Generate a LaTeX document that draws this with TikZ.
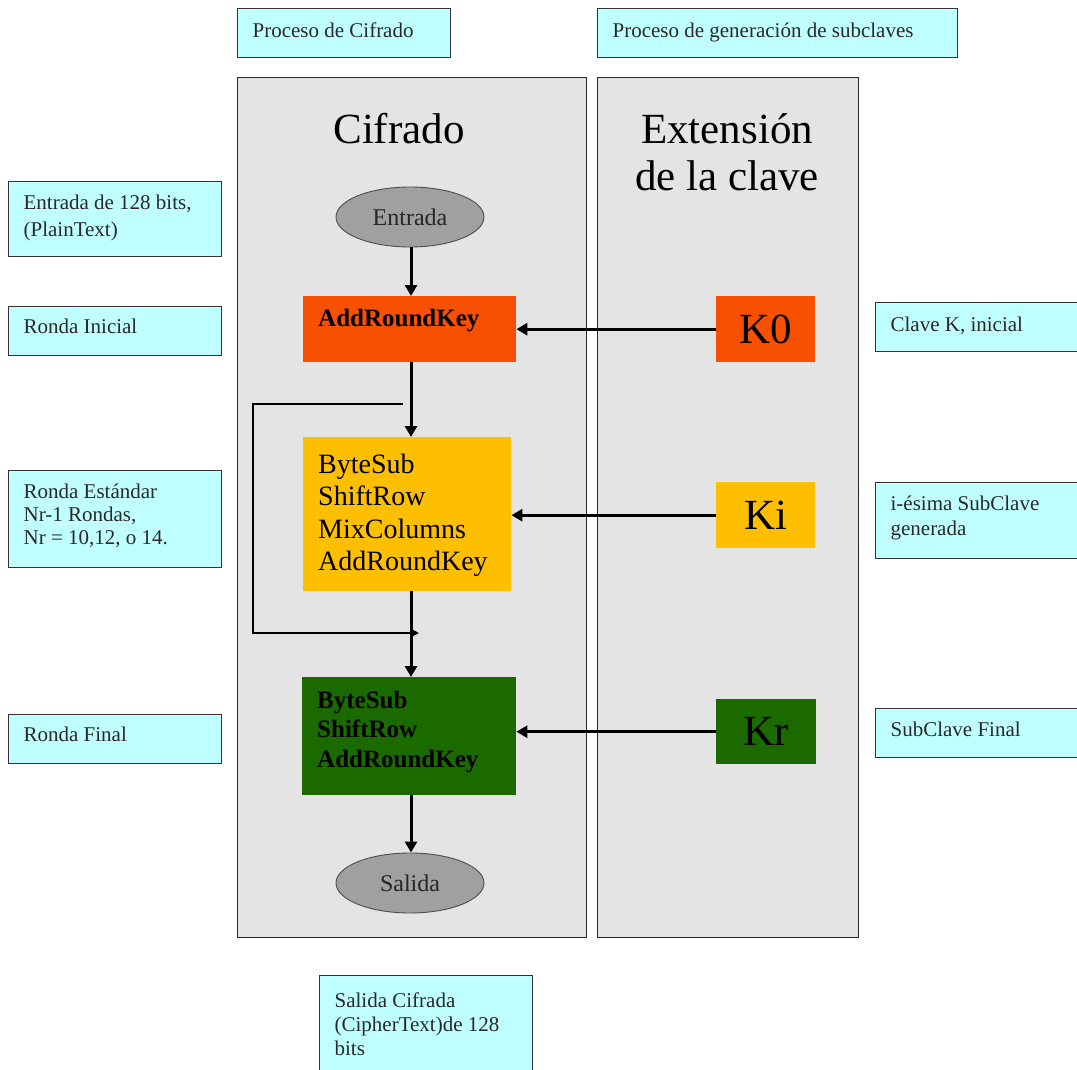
\documentclass[tikz,border=0pt]{standalone}
\usepackage{fontspec}
\setmainfont{Liberation Serif}
\usetikzlibrary{shapes.geometric,arrows.meta,calc}
\definecolor{cyanlt}{RGB}{192,255,255}
\definecolor{panelgray}{RGB}{228,228,228}
\definecolor{ovalgray}{RGB}{160,160,160}
\definecolor{orng}{RGB}{247,80,0}
\definecolor{yelw}{RGB}{253,191,0}
\definecolor{grn}{RGB}{26,106,0}
\definecolor{txtgray}{RGB}{40,40,40}
\newcommand{\bt}[4]{\parbox[c][#2pt][t]{#1pt}{\raggedright\rule{0pt}{#3pt}#4}}
\tikzset{
  lbl/.style={draw=black!80, line width=1.2pt, fill=cyanlt, anchor=north west,
    inner xsep=15pt, inner ysep=0pt, text=txtgray},
  panel/.style={draw=black!85, line width=1.2pt, fill=panelgray, anchor=north west,
    inner sep=0pt},
  cbox/.style={anchor=north west, inner xsep=15pt, inner ysep=0pt, text=black},
  kbox/.style={anchor=north west, inner sep=0pt, font=\fontsize{43}{47}\selectfont, text=black},
  oval/.style={ellipse, draw=black!70, line width=0.9pt, fill=ovalgray, minimum width=148pt,
    minimum height=60pt, inner sep=0pt, font=\fontsize{24}{28}\selectfont, text=black!85},
  arr/.style={line width=3pt, -{Triangle[width=12pt,length=11pt]}},
  thinarr/.style={line width=2pt, -{Triangle[width=9pt,length=9pt]}},
  title/.style={font=\fontsize{43}{47}\selectfont, text=black},
}
\begin{document}
\begin{tikzpicture}[x=1pt,y=-1pt]
\useasboundingbox (0,0) rectangle (1077,1070);
\fill[white] (0,0) rectangle (1077,1070);

% panels
\node[panel, minimum width=349pt, minimum height=860pt] (pL) at (237,77) {};
\node[panel, minimum width=261pt, minimum height=860pt] (pR) at (597,77) {};

% titles
\node[title, anchor=base] (tC) at (399,144) {Cifrado};
\node[title, align=center] (tE) at (727,152) {Extensión\\de la clave};

% top labels
\node[lbl, font=\fontsize{21}{25}\selectfont] (procC) at (237,8) {\bt{183}{49}{29}{Proceso de Cifrado}};
\node[lbl, font=\fontsize{21}{25}\selectfont] (procG) at (597,8) {\bt{330}{49}{29}{Proceso de generación de subclaves}};

% left labels
\node[lbl, font=\fontsize{21}{27}\selectfont] (entL) at (8,181) {\bt{183}{75}{28}{Entrada de 128 bits,\\(PlainText)}};
\node[lbl, font=\fontsize{21}{25}\selectfont] (riL) at (8,306) {\bt{183}{49}{27}{Ronda Inicial}};
\node[lbl, font=\fontsize{21}{23}\selectfont] (reL) at (8,470) {\bt{183}{97}{28}{Ronda Estándar\\Nr-1 Rondas,\\Nr = 10,12, o 14.}};
\node[lbl, font=\fontsize{21}{25}\selectfont] (rfL) at (8,714) {\bt{183}{49}{27}{Ronda Final}};

% right labels
\node[lbl, font=\fontsize{21}{25}\selectfont] (ckL) at (875,302) {\bt{185}{49}{29}{Clave K, inicial}};
\node[lbl, font=\fontsize{21}{25}\selectfont] (isL) at (875,482) {\bt{185}{76}{28}{i-ésima SubClave\\generada}};
\node[lbl, font=\fontsize{21}{25}\selectfont] (sfL) at (875,708) {\bt{185}{49}{28}{SubClave Final}};

% bottom label
\node[lbl, font=\fontsize{21}{24}\selectfont] (scL) at (319,975) {\bt{183}{105}{32}{Salida Cifrada\\(CipherText)de 128\\bits}};

% ellipses
\node[oval] (ent) at (410,217) {Entrada};
\node[oval] (sal) at (410,883) {Salida};

% cipher boxes
\node[cbox, fill=orng, font=\fontsize{25}{29.5}\selectfont\bfseries] (ark0) at (303,296) {\bt{183}{66}{30}{AddRoundKey}};
\node[cbox, fill=yelw, font=\fontsize{28}{32.5}\selectfont] (yel) at (303,437) {\bt{178}{154}{36}{ByteSub\\ShiftRow\\MixColumns\\AddRoundKey}};
\node[cbox, fill=grn, font=\fontsize{25}{29.5}\selectfont\bfseries] (grb) at (302,677) {\bt{184}{118}{31}{ByteSub\\ShiftRow\\AddRoundKey}};

% key boxes
\node[kbox, fill=orng, minimum width=99pt, minimum height=66pt] (k0) at (716,296) {K0};
\node[kbox, fill=yelw, minimum width=99pt, minimum height=66pt] (ki) at (716,482) {Ki};
\node[kbox, fill=grn, minimum width=100pt, minimum height=65pt] (kr) at (716,699) {Kr};

% vertical axis of the flow
\coordinate (ax) at (411,0);

% vertical arrows
\draw[arr] (ent.south -| ax) -- (ark0.north -| ax);
\draw[arr] (ark0.south -| ax) -- (yel.north -| ax);
\draw[arr] (yel.south -| ax) -- (grb.north -| ax);
\draw[arr] (grb.south -| ax) -- (sal.north -| ax);

% horizontal arrows
\draw[arr] (k0.west) -- (k0.west -| ark0.east);
\draw[arr] (ki.west) -- (ki.west -| yel.east);
\draw[arr] (kr.west) -- (kr.west -| grb.east);

% loop
\coordinate (lp1) at (403,404);
\coordinate (lpx) at (253,500);
\coordinate (lp2) at (419,633);
\draw[thinarr] (lp1) -| (lpx) |- (lp2);
\end{tikzpicture}
\end{document}
